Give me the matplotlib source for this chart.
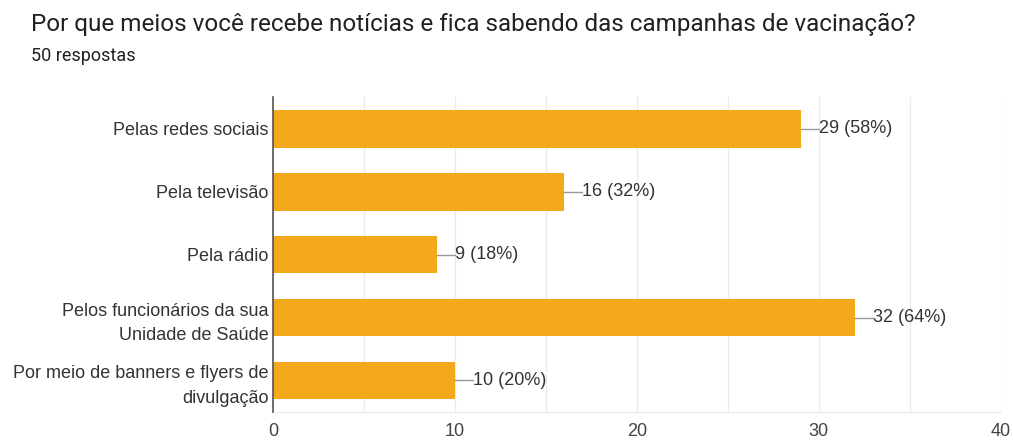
import matplotlib.pyplot as plt
from matplotlib.ticker import MultipleLocator

plt.rcParams['font.family'] = ['Liberation Sans', 'DejaVu Sans']

categories = ['Pelas redes sociais', 'Pela televisão', 'Pela rádio',
              'Pelos funcionários da sua\nUnidade de Saúde',
              'Por meio de banners e flyers de\ndivulgação']
counts = [29, 16, 9, 32, 10]
total = 50

fig = plt.figure(figsize=(10.13, 4.42), dpi=100)
ax = fig.add_axes([0.2695, 0.068, 0.7185, 0.712])

ypos = list(range(len(categories)))
ax.barh(ypos, counts, height=0.6, color='#F4A81C', zorder=3)

for y, c in zip(ypos, counts):
    ax.plot([c, c + 1], [y, y], color='#999999', lw=1, zorder=3)
    ax.text(c + 1, y, f'{c} ({c * 100 // total}%)', va='center', ha='left',
            fontsize=13, color='#333333')

ax.set_xlim(0, 40)
ax.set_ylim(4.5, -0.5)
ax.set_yticks(ypos)
ax.set_yticklabels(categories, fontsize=13, color='#333333', linespacing=1.55)
ax.xaxis.set_major_locator(MultipleLocator(10))
ax.xaxis.set_minor_locator(MultipleLocator(5))
ax.tick_params(axis='x', labelsize=13, labelcolor='#444444', length=0, pad=8, which='both')
ax.tick_params(axis='y', length=0, pad=3)
ax.grid(axis='x', which='both', color='#ebebeb', lw=1, zorder=0)

for s in ['top', 'right']:
    ax.spines[s].set_visible(False)
ax.spines['bottom'].set_color('#ebebeb')
ax.spines['left'].set_color('#555555')
ax.spines['left'].set_linewidth(1.2)
ax.spines['left'].set_zorder(4)

fig.text(0.0305, 0.945, 'Por que meios você recebe notícias e fica sabendo das campanhas de vacinação?',
         fontsize=17.5, color='#202124', va='center', family=['Roboto', 'DejaVu Sans'])
fig.text(0.0305, 0.873, '50 respostas', fontsize=13, color='#202124', va='center',
         family=['Roboto', 'DejaVu Sans'])

fig.savefig('out.png', dpi=100)
